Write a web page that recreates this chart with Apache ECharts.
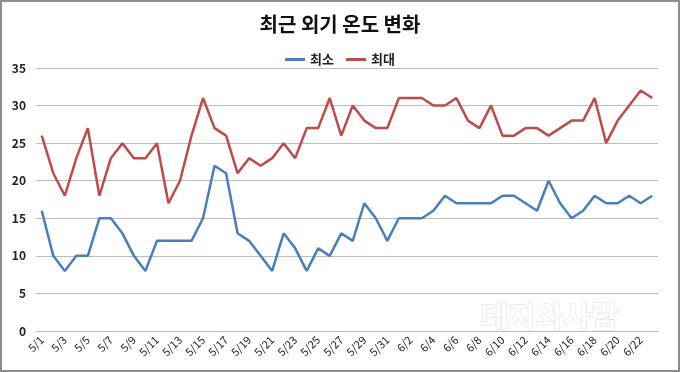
<!DOCTYPE html>
<html><head><meta charset="utf-8">
<script src="https://cdn.jsdelivr.net/npm/echarts@6/dist/echarts.min.js"></script>
<style>
html,body{margin:0;padding:0;background:#fff;}
#c{width:676px;height:368px;border:2px solid #8c8c8c;}
</style></head>
<body><div id="c"></div>
<script>
const categories = ["5/1","5/2","5/3","5/4","5/5","5/6","5/7","5/8","5/9","5/10","5/11","5/12","5/13","5/14","5/15","5/16","5/17","5/18","5/19","5/20","5/21","5/22","5/23","5/24","5/25","5/26","5/27","5/28","5/29","5/30","5/31","6/1","6/2","6/3","6/4","6/5","6/6","6/7","6/8","6/9","6/10","6/11","6/12","6/13","6/14","6/15","6/16","6/17","6/18","6/19","6/20","6/21","6/22","6/23"];
const minTemp = [16,10,8,10,10,15,15,13,10,8,12,12,12,12,15,22,21,13,12,10,8,13,11,8,11,10,13,12,17,15,12,15,15,15,16,18,17,17,17,17,18,18,17,16,20,17,15,16,18,17,17,18,17,18];
const maxTemp = [26,21,18,23,27,18,23,25,23,23,25,17,20,26,31,27,26,21,23,22,23,25,23,27,27,31,26,30,28,27,27,31,31,31,30,30,31,28,27,30,26,26,27,27,26,27,28,28,31,25,28,30,32,31];
const yTicks = [0,5,10,15,20,25,30,35];

const chart = echarts.init(document.getElementById('c'));
const font = '"Noto Sans CJK KR", "Noto Sans", sans-serif';
chart.setOption({
  animation:false,
  textStyle:{fontFamily:font},
  title:{text:'최근 외기 온도 변화',left:'center',top:7,
    textStyle:{fontSize:20,fontWeight:'bold',color:'#111',fontFamily:font}},
  legend:{top:46,left:'center',itemWidth:20,itemHeight:3,itemGap:12,icon:'rect',
    textStyle:{fontSize:13,fontWeight:'bold',color:'#222',fontFamily:font},
    data:['최소','최대']},
  grid:{left:34,right:20,top:66,bottom:39},
  xAxis:{type:'category',data:categories,boundaryGap:true,
    axisLine:{show:true,lineStyle:{color:'#bdbdbd'}},axisTick:{show:false},
    axisLabel:{interval:1,rotate:45,fontSize:11,color:'#222',margin:7,fontFamily:font}},
  yAxis:{type:'value',min:0,max:35,interval:5,
    axisLine:{show:false},axisTick:{show:false},
    splitLine:{lineStyle:{color:'#bdbdbd',width:1}},
    axisLabel:{fontSize:12,fontWeight:'bold',color:'#222',margin:10,fontFamily:font,
      formatter:v=>yTicks.includes(v)?String(v):''}},
  series:[
    {name:'최소',type:'line',data:minTemp,symbol:'none',
      lineStyle:{color:'#4A7EBB',width:2.5},itemStyle:{color:'#4A7EBB'}},
    {name:'최대',type:'line',data:maxTemp,symbol:'none',
      lineStyle:{color:'#BE4B48',width:2.5},itemStyle:{color:'#BE4B48'}}
  ],
  graphic:[{type:'text',left:478,top:298,z:100,
    style:{text:'돼지와사람',fontSize:30,fontWeight:'bold',fill:'rgba(255,255,255,0.9)',
      stroke:'rgba(190,190,190,0.5)',lineWidth:1,fontFamily:font}}]
});
</script></body></html>
